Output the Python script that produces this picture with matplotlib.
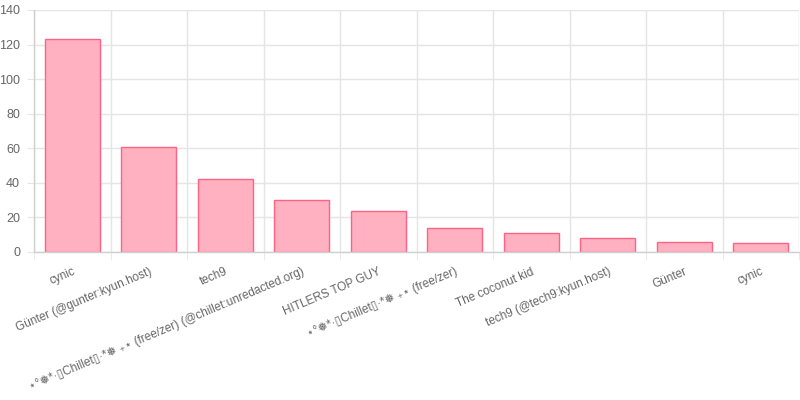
import matplotlib
matplotlib.use("Agg")
import matplotlib.pyplot as plt
import numpy as np

# -----------------------------
# Data
# -----------------------------
names = [
    "cynic",
    "Günter (@gunter:kyun.host)",
    "tech9",
    "⋆°❅*·▯Chillet▯·*❅ ₊⋆ (free/zer) (@chillet:unredacted.org)",
    "HITLERS TOP GUY",
    "⋆°❅*·▯Chillet▯·*❅ ₊⋆ (free/zer)",
    "The coconut kid",
    "tech9 (@tech9:kyun.host)",
    "Günter",
    "cynic",
]
counts = [123, 61, 42, 30, 24, 14, 11, 8, 6, 5]
y_ticks = [0, 20, 40, 60, 80, 100, 120, 140]

FONTS = ["Liberation Sans", "DejaVu Sans", "Noto Sans CJK JP"]
plt.rcParams["font.family"] = FONTS

fig = plt.figure(figsize=(8, 4), dpi=100)
ax = fig.add_axes([34 / 800, 1 - 252 / 400, 765 / 800, 242 / 400])

x = np.arange(len(names))
ax.bar(x, counts, width=0.72, color="#ffb1c1", edgecolor="#ff6384", linewidth=1, zorder=2)

ax.set_xlim(-0.5, len(names) - 0.5)
ax.set_ylim(0, 140)
ax.set_yticks(y_ticks)

# category boundaries get the grid lines (offset grid like the original)
ax.set_xticks(x)
ax.set_xticks(np.arange(len(names) + 1) - 0.5, minor=True)
ax.set_xticklabels(names, rotation=23, ha="right", rotation_mode="anchor",
                   fontsize=8.5, color="#666666")
ax.tick_params(axis="x", which="major", length=0, pad=10)
ax.tick_params(axis="x", which="minor", length=6, color="#e5e5e5")
ax.tick_params(axis="y", length=5, color="#e5e5e5", labelsize=9, labelcolor="#666666", pad=5)

ax.grid(True, axis="y", color="#e5e5e5", linewidth=1, zorder=0)
ax.grid(True, axis="x", which="minor", color="#e5e5e5", linewidth=1, zorder=0)
ax.set_axisbelow(True)

for side in ["top", "right"]:
    ax.spines[side].set_visible(False)
for side in ["left", "bottom"]:
    ax.spines[side].set_color("#cfcfcf")
    ax.spines[side].set_linewidth(1)

fig.savefig("out.png", dpi=100)
